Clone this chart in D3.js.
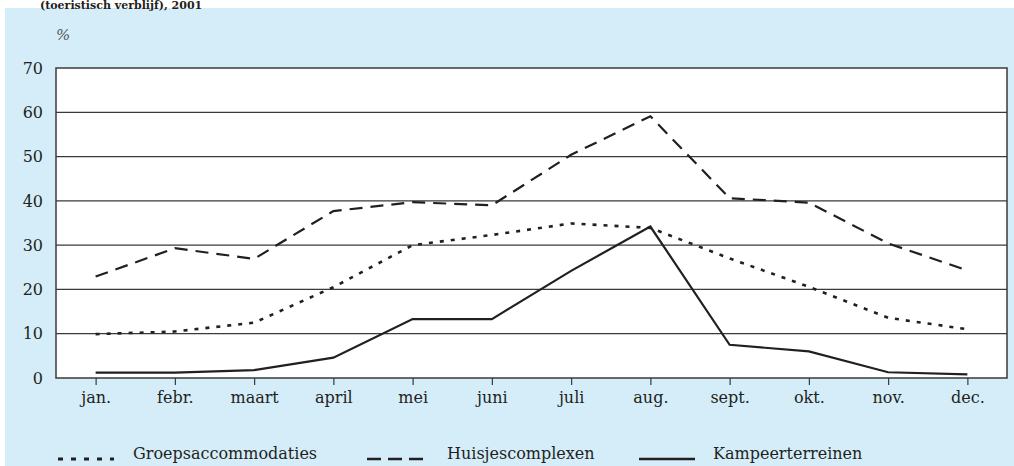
<!DOCTYPE html>
<html>
<head>
<meta charset="utf-8">
<script src="https://cdn.jsdelivr.net/npm/d3@7"></script>
<style>
  body { margin: 0; background: #fff; }
  svg text { font-family: "DejaVu Serif", "Liberation Serif", serif; fill: #231f20; }
</style>
</head>
<body>
<svg id="chart"></svg>
<script>
const months = ["jan.", "febr.", "maart", "april", "mei", "juni", "juli", "aug.", "sept.", "okt.", "nov.", "dec."];
const groeps = [9.9, 10.5, 12.5, 20.5, 30, 32.3, 34.9, 33.9, 27, 20.6, 13.6, 11];
const huisjes = [22.9, 29.3, 26.9, 37.7, 39.7, 39, 50.4, 59.1, 40.6, 39.6, 30.4, 24.3];
const kampeer = [1.2, 1.2, 1.8, 4.6, 13.3, 13.3, 24.2, 34.2, 7.5, 6, 1.3, 0.8];
const yTicks = [0, 10, 20, 30, 40, 50, 60, 70];

const series = [
  { name: "Groepsaccommodaties", values: groeps, dash: "4,7", width: 2.6 },
  { name: "Huisjescomplexen", values: huisjes, dash: "13,8", width: 2.2 },
  { name: "Kampeerterreinen", values: kampeer, dash: null, width: 2.2 }
];

const W = 1014, H = 466;
const margin = { top: 68, right: 7, bottom: 88, left: 56 },
  width = W - margin.left - margin.right,
  height = H - margin.top - margin.bottom;

const root = d3.select("#chart").attr("width", W).attr("height", H);

// light blue panel
root.append("rect")
  .attr("x", 5).attr("y", 8)
  .attr("width", W - 5).attr("height", H - 8)
  .attr("fill", "#d4edf9");

// title line at top (mostly cropped in the source)
root.append("text")
  .attr("x", 40).attr("y", 8.5)
  .style("font-weight", "bold")
  .style("font-size", "11px")
  .text("(toeristisch verblijf), 2001");

root.append("text")
  .attr("x", 56).attr("y", 40)
  .style("font-style", "italic")
  .style("font-size", "15px")
  .style("fill", "#555")
  .text("%");

const svg = root.append("g")
  .attr("transform", `translate(${margin.left}, ${margin.top})`);

svg.append("rect")
  .attr("width", width).attr("height", height)
  .attr("fill", "#fff");

const x = d3.scalePoint()
  .domain(months)
  .range([0, width])
  .padding(0.5);

const y = d3.scaleLinear()
  .domain([0, 70])
  .range([height, 0]);

// gridlines
svg.append("g")
  .selectAll("line")
  .data(yTicks.slice(1, -1))
  .join("line")
  .attr("x1", 0).attr("x2", width)
  .attr("y1", d => y(d)).attr("y2", d => y(d))
  .attr("stroke", "#3a3a3a")
  .attr("stroke-width", 1.2);

// y labels
svg.append("g")
  .selectAll("text")
  .data(yTicks)
  .join("text")
  .attr("x", -13)
  .attr("y", d => y(d))
  .attr("dy", "0.36em")
  .attr("text-anchor", "end")
  .style("font-size", "16px")
  .text(d => d);

// x axis
const xAxis = svg.append("g")
  .attr("transform", `translate(0, ${height})`)
  .call(d3.axisBottom(x).tickSize(7).tickPadding(7));
xAxis.select(".domain").remove();
xAxis.selectAll(".tick line").attr("stroke", "#3a3a3a").attr("stroke-width", 1.2);
xAxis.selectAll(".tick text")
  .style("font-size", "16px")
  .style("font-family", "DejaVu Serif, serif")
  .attr("fill", "#231f20");

// frame
svg.append("rect")
  .attr("width", width).attr("height", height)
  .attr("fill", "none")
  .attr("stroke", "#3a3a3a")
  .attr("stroke-width", 1.5);

const line = d3.line()
  .x((d, i) => x(months[i]))
  .y(d => y(d));

svg.append("g")
  .selectAll("path")
  .data(series)
  .join("path")
  .attr("d", d => line(d.values))
  .attr("fill", "none")
  .attr("stroke", "#231f20")
  .attr("stroke-width", d => d.width)
  .attr("stroke-dasharray", d => d.dash)
  .attr("stroke-linejoin", "miter");

// legend
const legendX = [58, 367, 639];
const legend = root.append("g")
  .selectAll("g")
  .data(series)
  .join("g")
  .attr("transform", (d, i) => `translate(${legendX[i]}, 459)`);

legend.append("line")
  .attr("x1", 0).attr("x2", 56)
  .attr("y1", 0).attr("y2", 0)
  .attr("stroke", "#231f20")
  .attr("stroke-width", (d, i) => i === 0 ? 3 : 2.4)
  .attr("stroke-dasharray", (d, i) => i === 0 ? "5,8" : i === 1 ? "14,7" : null);

legend.append("text")
  .attr("x", (d, i) => [75, 80, 74][i])
  .attr("y", 0)
  .style("font-size", "16px")
  .text(d => d.name);
</script>
</body>
</html>
